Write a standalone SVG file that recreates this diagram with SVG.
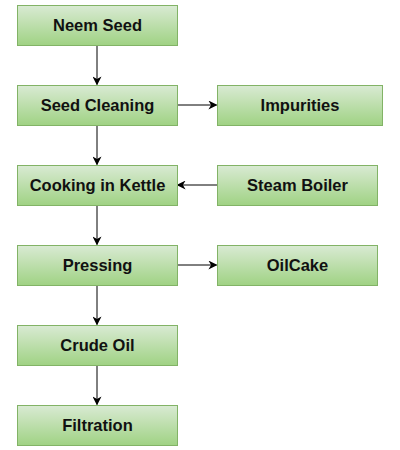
<svg xmlns="http://www.w3.org/2000/svg" width="400" height="450" viewBox="0 0 400 450">
<defs>
<linearGradient id="g" x1="0" y1="0" x2="0" y2="1">
<stop offset="0" stop-color="#d9ead3"/>
<stop offset="1" stop-color="#9fd283"/>
</linearGradient>
<marker id="arr" viewBox="0 0 10 10" refX="9" refY="5" markerWidth="9" markerHeight="9" markerUnits="userSpaceOnUse" orient="auto">
<path d="M0,0 L10,5 L0,10 L3,5 Z" fill="#000"/>
</marker>
<style>
.box{fill:url(#g);stroke:#82b366;stroke-width:1}
.lbl{font-family:"Liberation Sans",Arial,sans-serif;font-weight:bold;font-size:16.5px;fill:#111;text-anchor:middle}
.con{fill:none;stroke:#000;stroke-width:1;marker-end:url(#arr)}
</style>
</defs>
<rect width="400" height="450" fill="#fff"/>
<g id="connectors">
<line class="con" x1="97" y1="45" x2="97" y2="84.5"/>
<line class="con" x1="97" y1="125" x2="97" y2="164.5"/>
<line class="con" x1="97" y1="205" x2="97" y2="244.5"/>
<line class="con" x1="97" y1="285" x2="97" y2="324.5"/>
<line class="con" x1="97" y1="365" x2="97" y2="404.5"/>
<line class="con" x1="177" y1="105" x2="216.5" y2="105"/>
<line class="con" x1="217" y1="185" x2="177.5" y2="185"/>
<line class="con" x1="177" y1="265" x2="216.5" y2="265"/>
</g>
<g id="neem-seed"><rect class="box" x="17.5" y="5.5" width="160" height="40"/><text class="lbl" x="97.5" y="31">Neem Seed</text></g>
<g id="seed-cleaning"><rect class="box" x="17.5" y="85.5" width="160" height="40"/><text class="lbl" x="97.5" y="111">Seed Cleaning</text></g>
<g id="impurities"><rect class="box" x="217.5" y="85.5" width="165" height="40"/><text class="lbl" x="300" y="111">Impurities</text></g>
<g id="cooking"><rect class="box" x="17.5" y="165.5" width="160" height="40"/><text class="lbl" x="97.5" y="191">Cooking in Kettle</text></g>
<g id="steam-boiler"><rect class="box" x="217.5" y="165.5" width="160" height="40"/><text class="lbl" x="297.5" y="191">Steam Boiler</text></g>
<g id="pressing"><rect class="box" x="17.5" y="245.5" width="160" height="40"/><text class="lbl" x="97.5" y="271">Pressing</text></g>
<g id="oilcake"><rect class="box" x="217.5" y="245.5" width="160" height="40"/><text class="lbl" x="297.5" y="271">OilCake</text></g>
<g id="crude-oil"><rect class="box" x="17.5" y="325.5" width="160" height="40"/><text class="lbl" x="97.5" y="351">Crude Oil</text></g>
<g id="filtration"><rect class="box" x="17.5" y="405.5" width="160" height="40"/><text class="lbl" x="97.5" y="431">Filtration</text></g>
</svg>
